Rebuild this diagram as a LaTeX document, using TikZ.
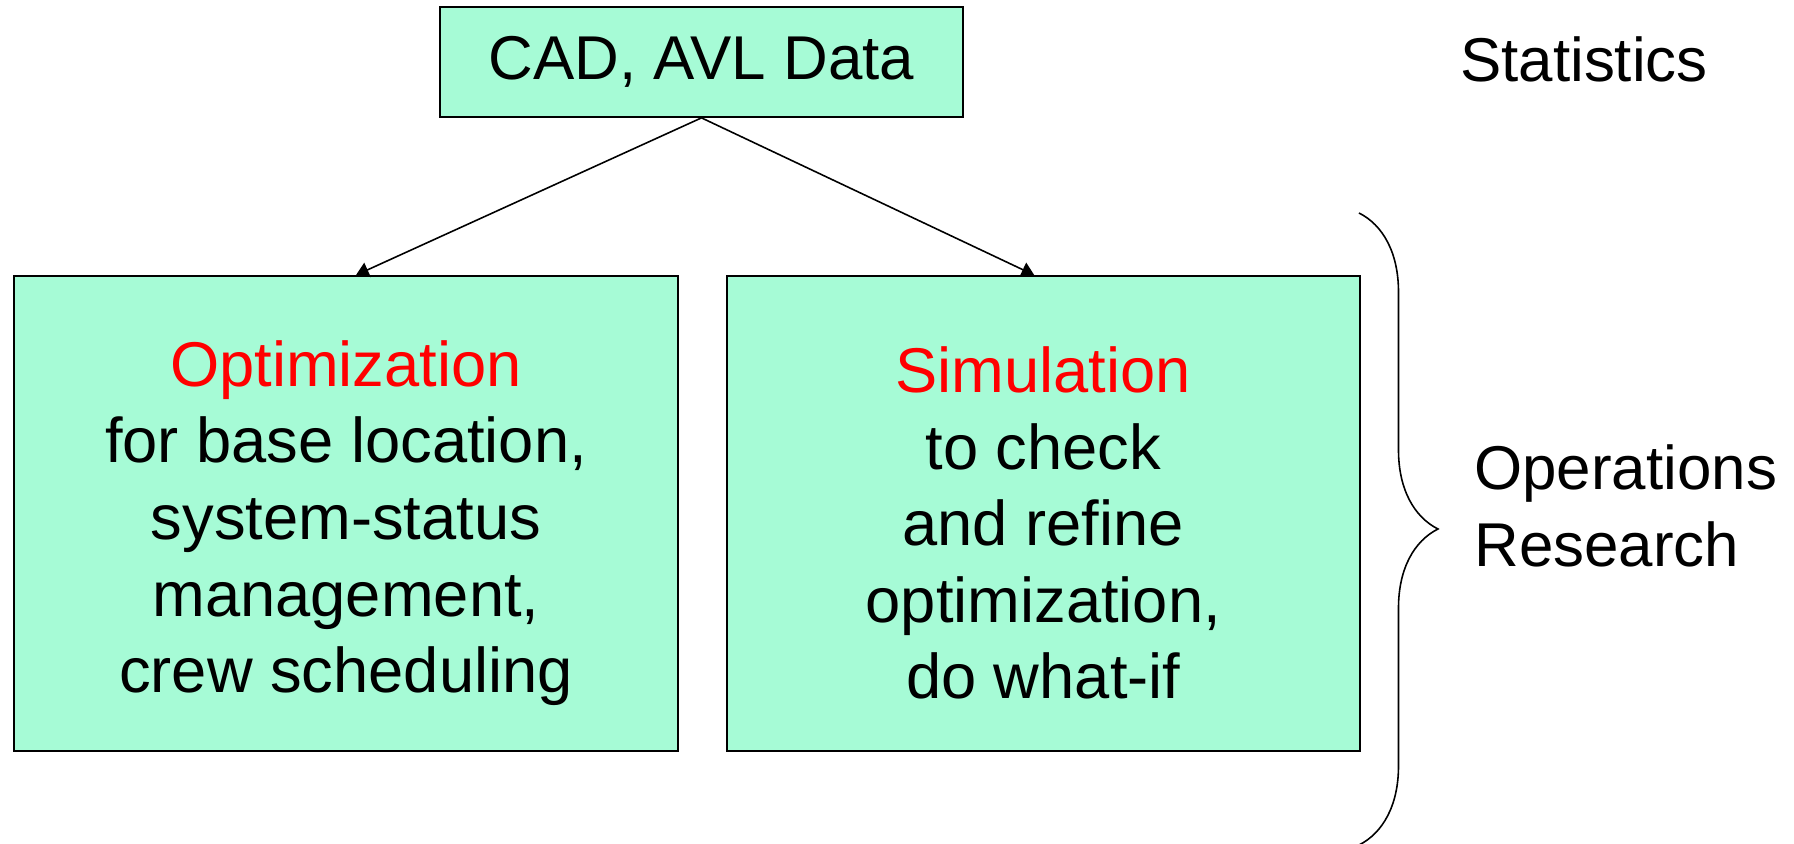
\documentclass[tikz,border=0pt]{standalone}
\usepackage{fontspec}
\setmainfont{Liberation Sans}
\usepackage{xcolor}
\usetikzlibrary{positioning,arrows.meta,decorations.pathreplacing}
\definecolor{boxgreen}{RGB}{166,251,214}
\tikzset{
    green-box/.style = {draw=black, fill=boxgreen, line width=0.5pt, rectangle, align=center, inner sep=0pt},
    big-text/.style = {font=\fontsize{17.6}{21.8}\selectfont},
    box-text/.style = {font=\fontsize{18}{21.8}\selectfont},
    link/.style = {-{Triangle[length=3.6pt,width=4.4pt]}, line width=0.45pt},
}

\begin{document}
\begin{tikzpicture}
\useasboundingbox (0,0) rectangle (17.94,-8.44);
\node [green-box, big-text, minimum width=5.23cm, minimum height=1.10cm] (data) at (7.015,-0.62) {CAD, AVL Data};
\node [green-box, box-text, minimum width=6.64cm, minimum height=4.75cm] (opt) at (3.46,-5.135) {\rule{0pt}{18.5pt}\textcolor{red}{Optimization}\\
    for base location,\\ system-status\\ management,\\ crew scheduling};
\node [green-box, box-text, minimum width=6.33cm, minimum height=4.75cm, right=0.47cm of opt] (sim) {\rule{0pt}{18.5pt}\textcolor{red}{Simulation}\\
    to check\\ and refine\\ optimization,\\ do what-if};
\node [big-text] (stats) at (15.84,-0.59) {Statistics};
\node [big-text, align=left, anchor=west] (opres) at (14.62,-5.06) {Operations\\ Research};
\draw [link] (data.south) -- ([xshift=0.1cm]opt.north);
\draw [link] (data.south) -- ([xshift=-0.09cm]sim.north);
\draw [decorate, decoration={brace, amplitude=0.79cm}, line width=0.45pt] (13.59,-2.13) -- (13.59,-8.45);
\end{tikzpicture}
\end{document}
